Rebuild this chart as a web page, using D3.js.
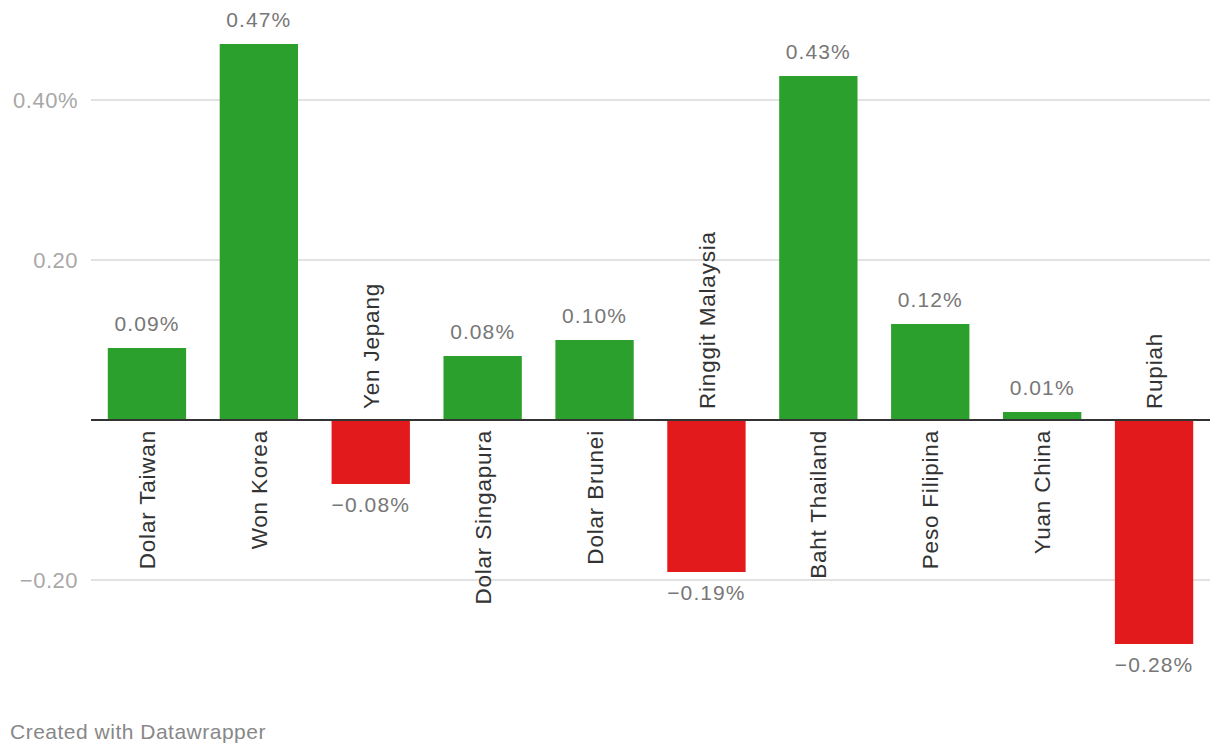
<!DOCTYPE html>
<html><head><meta charset="utf-8">
<script src="https://cdn.jsdelivr.net/npm/d3@7"></script>
<style>body{margin:0;background:#fff;} svg{display:block;}</style>
</head><body>
<svg id="c" width="1220" height="756"></svg>
<script>
const categories = ["Dolar Taiwan","Won Korea","Yen Jepang","Dolar Singapura","Dolar Brunei","Ringgit Malaysia","Baht Thailand","Peso Filipina","Yuan China","Rupiah"];
const values = [0.09,0.47,-0.08,0.08,0.10,-0.19,0.43,0.12,0.01,-0.28];
const yTicks = [0.4,0.2,-0.2];
const yTickLabels = ["0.40%","0.20","\u22120.20"];

const svg = d3.select("#c");
const x = d3.scaleBand().domain(categories).range([91,1210]).paddingInner(0.3).paddingOuter(0.15);
const y = d3.scaleLinear().domain([-0.28,0.47]).range([644,44]);
const fmt = v => (v<0?"\u2212":"") + Math.abs(v).toFixed(2) + "%";
const FONT = "Liberation Sans, Arial, Helvetica, sans-serif";

// gridlines
svg.append("g").selectAll("line").data(yTicks).join("line")
  .attr("x1",91).attr("x2",1210)
  .attr("y1",d=>Math.round(y(d))).attr("y2",d=>Math.round(y(d)))
  .attr("stroke","#e2e2e2").attr("stroke-width",2);
svg.append("g").selectAll("text").data(yTicks).join("text")
  .attr("x",78).attr("y",d=>y(d)).attr("dy","0.36em")
  .attr("text-anchor","end").attr("font-family",FONT)
  .attr("font-size",22).attr("letter-spacing",0.5).attr("fill","#a8a8a8")
  .text((d,i)=>yTickLabels[i]);

// bars
svg.append("g").selectAll("rect").data(values).join("rect")
  .attr("x",(d,i)=>x(categories[i])).attr("width",x.bandwidth())
  .attr("y",d=>d>=0?y(d):y(0)).attr("height",d=>Math.abs(y(d)-y(0)))
  .attr("fill",d=>d>=0?"#2ca02c":"#e31a1c");

// zero line
svg.append("line").attr("x1",91).attr("x2",1210).attr("y1",y(0)).attr("y2",y(0))
  .attr("stroke","#333").attr("stroke-width",2);

// value labels
svg.append("g").selectAll("text").data(values).join("text")
  .attr("x",(d,i)=>x(categories[i])+x.bandwidth()/2)
  .attr("y",d=>d>=0?y(d)-17:y(d)+28)
  .attr("text-anchor","middle").attr("font-family",FONT)
  .attr("font-size",21).attr("letter-spacing",1.1).attr("fill","#777")
  .text(d=>fmt(d));

// category labels
svg.append("g").selectAll("text").data(values).join("text")
  .attr("transform",(d,i)=>{
    const cx = x(categories[i])+x.bandwidth()/2;
    const cy = d>=0 ? y(0)+10 : y(0)-11;
    return `translate(${cx},${cy}) rotate(-90)`;
  })
  .attr("text-anchor",d=>d>=0?"end":"start").attr("dy","0.36em")
  .attr("font-family",FONT).attr("letter-spacing",0.8)
  .attr("font-size",22.5).attr("fill","#333")
  .text((d,i)=>categories[i]);

svg.append("text").attr("x",10).attr("y",739)
  .attr("font-family",FONT).attr("font-size",21).attr("letter-spacing",0.5).attr("fill","#888")
  .text("Created with Datawrapper");
</script>
</body></html>
